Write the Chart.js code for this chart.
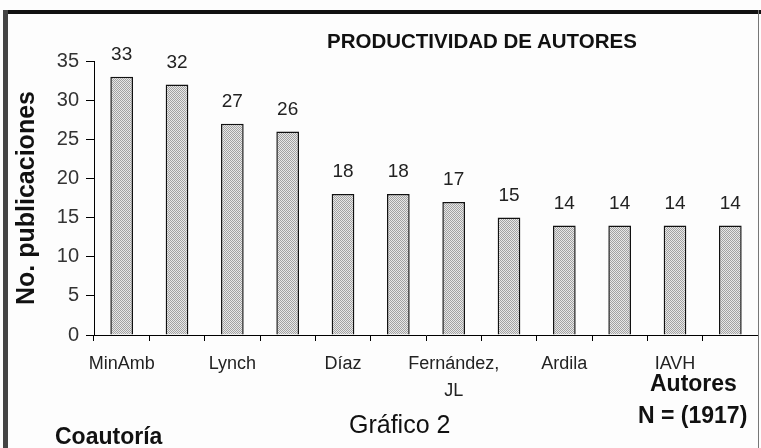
<!DOCTYPE html>
<html lang="es">
  <head>
    <meta charset="UTF-8" />
    <title>Productividad de autores</title>
    <script src="https://cdn.jsdelivr.net/npm/chart.js@4.4.1/dist/chart.umd.min.js"></script>
    <style>
      body {
        margin: 0;
        padding: 0;
        background-color: #fdfdfd;
        font-family: "Liberation Sans", Arial, sans-serif;
      }

      #wrap {
        position: relative;
        width: 761px;
        height: 448px;
        overflow: hidden;
      }

      canvas {
        position: absolute;
        left: 0;
        top: 0;
      }

      .frame-top {
        position: absolute;
        left: 3px;
        top: 10px;
        width: 758px;
        height: 4px;
        background: #111;
      }

      .frame-left {
        position: absolute;
        left: 3px;
        top: 10px;
        width: 5px;
        height: 438px;
        background: #444;
      }

      .frame-right {
        position: absolute;
        left: 758px;
        top: 10px;
        width: 1px;
        height: 438px;
        background: #777;
      }

      .note {
        position: absolute;
        white-space: nowrap;
        line-height: 1;
        color: #111;
      }
    </style>
  </head>
  <body>
    <div id="wrap">
      <canvas id="chart" width="761" height="448"></canvas>
      <div class="frame-top"></div>
      <div class="frame-left"></div>
      <div class="frame-right"></div>
      <div class="note" style="left: 327px; top: 31px; font-size: 20.5px; font-weight: bold">
        PRODUCTIVIDAD DE AUTORES
      </div>
      <div class="note" style="left: 650px; top: 372px; font-size: 23px; font-weight: bold">
        Autores
      </div>
      <div class="note" style="left: 638px; top: 404px; font-size: 23px; font-weight: bold">
        N = (1917)
      </div>
      <div class="note" style="left: 349px; top: 412px; font-size: 25px">
        Gráfico 2
      </div>
      <div class="note" style="left: 55px; top: 425px; font-size: 23px; font-weight: bold">
        Coautoría
      </div>
    </div>

    <script>
      // Datos (solo se rotulan las categorías impares)
      const autores = [
        "MinAmb", "", "Lynch", "", "Díaz", "",
        ["Fernández,", "JL"], "", "Ardila", "", "IAVH", "",
      ];
      const publicaciones = [33, 32, 27, 26, 18, 18, 17, 15, 14, 14, 14, 14];
      const yTicks = [0, 5, 10, 15, 20, 25, 30, 35];

      // trama punteada gris de las barras
      function makePattern() {
        const c = document.createElement("canvas");
        c.width = 2;
        c.height = 2;
        const g = c.getContext("2d");
        g.fillStyle = "#e8e8e8";
        g.fillRect(0, 0, 2, 2);
        g.fillStyle = "#a2a2a2";
        g.fillRect(0, 0, 1, 1);
        g.fillRect(1, 1, 1, 1);
        return g.createPattern(c, "repeat");
      }

      // etiquetas de valor encima de cada barra
      const valueLabels = {
        id: "valueLabels",
        afterDatasetsDraw(chart) {
          const ctx = chart.ctx;
          const meta = chart.getDatasetMeta(0);
          ctx.save();
          ctx.font = '19px "Liberation Sans", Arial, sans-serif';
          ctx.fillStyle = "#222";
          ctx.textAlign = "center";
          ctx.textBaseline = "middle";
          meta.data.forEach((bar, i) => {
            ctx.fillText(publicaciones[i], bar.x, bar.y - 22);
          });
          ctx.restore();
        },
      };

      const ctx = document.getElementById("chart").getContext("2d");

      new Chart(ctx, {
        type: "bar",
        data: {
          labels: autores,
          datasets: [
            {
              label: "No. publicaciones",
              data: publicaciones,
              backgroundColor: makePattern(),
              borderColor: "#111",
              borderWidth: 1.5,
              barPercentage: 0.41,
              categoryPercentage: 1,
            },
          ],
        },
        options: {
          responsive: false,
          devicePixelRatio: 1,
          animation: false,
          layout: {
            padding: { top: 61, right: 3, left: 0, bottom: 0 },
          },
          plugins: {
            legend: { display: false },
            tooltip: { enabled: false },
          },
          scales: {
            y: {
              min: 0,
              max: 35,
              afterFit: (scale) => {
                scale.width = 94;
              },
              afterBuildTicks: (scale) => {
                scale.ticks = yTicks.map((v) => ({ value: v }));
              },
              ticks: {
                color: "#333",
                padding: 7,
                font: { family: "Liberation Sans", size: 20 },
              },
              grid: {
                drawOnChartArea: false,
                color: "#000",
                tickLength: 8,
              },
              border: { color: "#000", width: 1 },
              title: {
                display: true,
                text: "No. publicaciones",
                color: "#111",
                padding: { top: 12, bottom: 0 },
                font: { family: "Liberation Sans", size: 25, weight: "bold" },
              },
            },
            x: {
              afterFit: (scale) => {
                scale.height = 113;
              },
              ticks: {
                autoSkip: false,
                maxRotation: 0,
                color: "#222",
                padding: 10,
                font: { family: "Liberation Sans", size: 18, lineHeight: 1.5 },
              },
              grid: {
                offset: true,
                drawOnChartArea: false,
                color: "#000",
                tickLength: 6,
              },
              border: { color: "#000", width: 1 },
            },
          },
        },
        plugins: [valueLabels],
      });
    </script>
  </body>
</html>
